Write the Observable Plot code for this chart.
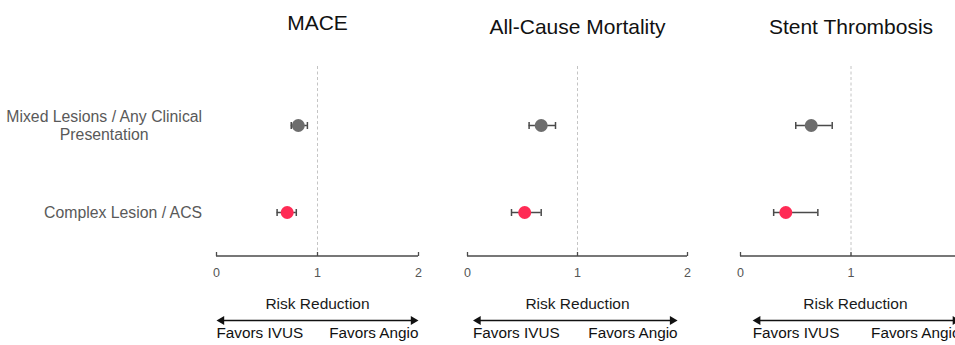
<!DOCTYPE html>
<html><head><meta charset="utf-8">
<script src="https://cdn.jsdelivr.net/npm/d3@7"></script>
<script src="https://cdn.jsdelivr.net/npm/@observablehq/plot@0.6"></script>
<style>
html,body{margin:0;padding:0;background:#fff;overflow:hidden;width:955px;height:345px}
#chart{position:relative;width:955px;height:345px;overflow:hidden}
#chart>svg{position:absolute;top:0}
</style></head>
<body><div id="chart"></div>
<script>
// ---------- data ----------
const outcomes = ["MACE", "All-Cause Mortality", "Stent Thrombosis"];
const subgroups = ["Mixed Lesions / Any Clinical\nPresentation", "Complex Lesion / ACS"];
const maceRR = [0.81, 0.70], maceLo = [0.74, 0.60], maceHi = [0.90, 0.79];
const mortRR = [0.67, 0.52], mortLo = [0.56, 0.40], mortHi = [0.80, 0.67];
const stRR   = [0.64, 0.41], stLo   = [0.50, 0.30], stHi   = [0.83, 0.70];
const xTicks = [0, 1, 2];
const nullValue = 1;
const directionLabel = "Risk Reduction";
const favorLabels = ["Favors IVUS", "Favors Angio"];

const series = [[maceRR, maceLo, maceHi], [mortRR, mortLo, mortHi], [stRR, stLo, stHi]];

// ---------- layout & style ----------
const FONT = '"Liberation Sans", Arial, Helvetica, sans-serif';
const H = 345, TOP = 66, AXIS_Y = 255.5, ROW_Y = [125, 212], MR = 15;
const panelLayout = [
  {left: 0,   ml: 216, pw: 202, titleBase: 29, arrow: [0, 2],       rr: 1},
  {left: 440, ml: 27,  pw: 220, titleBase: 33, arrow: [0.05, 1.91], rr: 1},
  {left: 705, ml: 35,  pw: 221, titleBase: 33, arrow: [0.11, 1.99], rr: 1.04}
];
const dotColors = ["#6d6d6d", "#ff2b55"];
const ink = "#4a4a4a";
const ARROW_Y = 320, RR_BASE = 308, FAV_BASE = 337;
const LABEL_SIZE = 15.8;
const headR = 3.3;
const tipDist = 2 * Math.sqrt(Math.PI * headR * headR / (Math.sqrt(3) * 3));

// custom symbols: vertical cap (centered) and upward tick
const vCap = {draw(c, size) { const h = Math.sqrt(size / Math.PI); c.moveTo(0, -h); c.lineTo(0, h); }};
const upTick = {draw(c, size) { const h = Math.sqrt(size / Math.PI); c.moveTo(0, 0); c.lineTo(0, -h); }};

const ctx = document.createElement("canvas").getContext("2d");
ctx.font = `${LABEL_SIZE}px ${FONT}`;
const labelWidth = s => Math.max(...s.split("\n").map(l => ctx.measureText(l).width));

const chart = document.getElementById("chart");
const last = subgroups[subgroups.length - 1];

outcomes.forEach((title, i) => {
  const L = panelLayout[i];
  const [rr, lo, hi] = series[i];
  const rows = subgroups.map((g, j) => ({group: g, rr: rr[j], lo: lo[j], hi: hi[j], color: dotColors[j]}));
  const fromLast = v => v - ROW_Y[1];
  const fromBottom = v => v - AXIS_Y;

  const marks = [
    Plot.ruleX([nullValue], {x: d => d, stroke: "#c4c4c4", strokeDasharray: "3,2.5"}),
    // axis line + upward ticks + labels
    Plot.ruleY([last], {y: d => d, x1: xTicks[0], x2: xTicks[xTicks.length - 1], dy: fromLast(AXIS_Y), stroke: ink, strokeWidth: 1.5}),
    Plot.dot(xTicks, {x: d => d, frameAnchor: "bottom", symbol: upTick, r: 4, fill: "none", stroke: ink, strokeWidth: 1.3}),
    Plot.axisX({ticks: xTicks, tickSize: 0, tickPadding: 12, fontSize: 12.5, fill: "#555", tickFormat: d => String(d)}),
    // CIs
    Plot.ruleY(rows, {y: "group", x1: "lo", x2: "hi", stroke: ink, strokeWidth: 1.5}),
    Plot.dot(rows, {x: "lo", y: "group", symbol: vCap, r: 3.5, fill: "none", stroke: ink, strokeWidth: 1.5}),
    Plot.dot(rows, {x: "hi", y: "group", symbol: vCap, r: 3.5, fill: "none", stroke: ink, strokeWidth: 1.5}),
    Plot.dot(rows, {x: "rr", y: "group", r: 6.5, fill: d => d.color, stroke: "none"}),
    // title
    Plot.text([title], {frameAnchor: "top", lineAnchor: "bottom", dy: L.titleBase - TOP, fontSize: 21, fill: "#111"}),
    // direction annotation
    Plot.text([directionLabel], {x: () => L.rr, frameAnchor: "bottom", lineAnchor: "bottom", dy: fromBottom(RR_BASE), fontSize: 15.5, fill: "#1a1a1a"}),
    Plot.ruleY([last], {y: d => d, x1: L.arrow[0], x2: L.arrow[1], dy: fromLast(ARROW_Y), stroke: "#111", strokeWidth: 1.5, insetLeft: 3, insetRight: 3}),
    Plot.dot([L.arrow[0]], {x: d => d, frameAnchor: "bottom", dy: fromBottom(ARROW_Y), dx: tipDist, symbol: "triangle", r: headR, rotate: -90, fill: "#111", stroke: "none"}),
    Plot.dot([L.arrow[1]], {x: d => d, frameAnchor: "bottom", dy: fromBottom(ARROW_Y), dx: -tipDist, symbol: "triangle", r: headR, rotate: 90, fill: "#111", stroke: "none"}),
    Plot.text([favorLabels[0]], {x: () => L.arrow[0], frameAnchor: "bottom", lineAnchor: "bottom", textAnchor: "start", dy: fromBottom(FAV_BASE), fontSize: 15.3, fill: "#111"}),
    Plot.text([favorLabels[1]], {x: () => L.arrow[1], frameAnchor: "bottom", lineAnchor: "bottom", textAnchor: "end", dy: fromBottom(FAV_BASE), fontSize: 15.3, fill: "#111"})
  ];

  if (i === 0) {
    subgroups.forEach(g => {
      marks.push(Plot.text([g], {y: d => d, frameAnchor: "left", textAnchor: "middle", lineAnchor: "middle",
        lineHeight: 1.14, dx: -14 - labelWidth(g) / 2, fontSize: LABEL_SIZE, fill: "#595959"}));
    });
  }

  const svg = Plot.plot({
    width: L.ml + L.pw + MR,
    height: H,
    marginLeft: L.ml,
    marginRight: MR,
    marginTop: TOP,
    marginBottom: H - AXIS_Y,
    x: {domain: [xTicks[0], xTicks[xTicks.length - 1]]},
    y: {type: "point", domain: subgroups, range: ROW_Y, padding: 0, axis: null},
    color: {type: "identity"},
    style: {fontFamily: FONT, background: "transparent", overflow: "visible"},
    marks
  });
  svg.style.left = L.left + "px";
  svg.style.maxWidth = "none";
  chart.appendChild(svg);
});
</script>
</body></html>
